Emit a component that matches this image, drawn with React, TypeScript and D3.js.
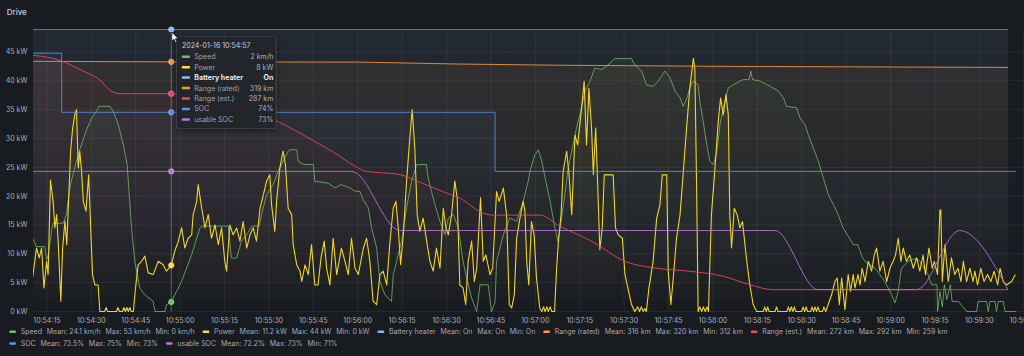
import React, { useEffect, useRef } from "react";
import * as d3 from "d3";

// ---------- DATA (seconds after 2024-01-16 10:54:00) ----------
const BASE_TIME = "2024-01-16T10:54:00";
const HOVER_SEC = 57;
const RANGE_START_SEC = 10.3;
const RANGE_END_SEC = 347;

const powerReadings: [number, number][] = [
  [9.8,4.6],[11.5,11],[12.4,9.3],[13.2,11],[14.0,4.1],[14.9,8.7],[15.4,6.4],[16.2,22.8],[17.1,19.1],[17.7,14.5],[18.3,16.8],[18.8,12.2],[19.7,1.8],[20.3,11],[21.1,15.7],[21.7,11.6],[22.5,21.4],[23.0,27.8],[23.7,31.8],[24.4,34.1],[25.0,35],[25.6,24.9],[26.1,27.8],[26.7,24.4],[27.3,19.1],[28.2,17.4],[29.1,23.7],[29.8,14.5],[30.4,6.4],[31.2,4.6],[32.3,4.6],[32.9,0],[34.5,0],[35.0,0.7],[35.5,0],[38.5,0],[39.0,0.7],[39.5,0],[40.5,0],[41.0,0.7],[41.5,0],[42.0,0.7],[42.5,0],[43.0,0.7],[43.5,0],[44.2,0],[44.7,2.9],[45.8,8.1],[47.0,8.7],[48.1,9.6],[49.2,6.7],[50.9,6.4],[52.6,8.7],[54.3,8.1],[55.4,7],[57.0,8],[58.2,10.5],[59.4,12.2],[60.5,14.5],[61.6,11],[62.7,12.7],[63.9,13.3],[64.4,16.8],[65.6,19.1],[66.1,22],[67.3,17.9],[68.4,14.5],[69.5,16.8],[70.6,12.7],[71.8,15],[72.9,11.6],[74.0,14.5],[75.1,8.7],[75.7,7],[76.8,15],[77.9,13.3],[79.1,14.5],[80.2,12.2],[81.3,15.6],[82.5,11],[83.6,13.3],[84.7,14.5],[85.8,12.2],[87.0,17.9],[88.1,20.2],[89.2,22.6],[90.3,23.7],[90.9,18.5],[92.0,13.9],[92.6,19.1],[93.7,24.9],[94.8,27.8],[95.6,25.4],[96.5,17.9],[97.7,16.8],[98.2,11.6],[99.4,8.1],[100.5,7],[101.1,5.2],[102.2,8.1],[103.3,6.4],[104.4,11.6],[105.5,4.6],[106.6,4.6],[107.6,9.3],[108.7,12.2],[109.5,7.5],[110.6,4.6],[111.7,12.7],[112.9,6.4],[114.5,11],[115.7,8.7],[116.8,6.4],[117.9,12.7],[119.1,7.5],[120.2,6.4],[121.9,11],[123.0,12.7],[124.1,8.7],[125.2,1.8],[126.4,1.2],[127.5,6.4],[128.6,7],[129.8,4.6],[130.9,12.2],[132.0,17.9],[132.9,19.1],[133.7,14.5],[134.5,8.1],[135.4,13.3],[136.5,22.6],[137.6,30.1],[138.4,35],[139.3,28.3],[140.1,16.8],[141.0,13.9],[142.1,16.2],[143.3,12.2],[144.4,8.7],[145.5,7],[146.6,11],[147.8,7.5],[148.9,17.9],[149.8,14.5],[150.6,13.3],[151.7,16.8],[152.8,22.6],[153.6,19.7],[154.5,4.6],[155.6,4.1],[156.5,1.2],[157.3,8.7],[158.5,12.2],[159.4,5.2],[160.2,7.5],[161.5,19.7],[162.4,8.7],[163.3,9.8],[164.7,6.4],[165.6,7.5],[166.9,20.8],[167.8,19.1],[169.2,21.4],[170.3,16.8],[171.2,1.2],[172.0,0.6],[172.9,2.9],[173.7,12.7],[174.8,16.2],[175.9,19.1],[176.5,17.4],[177.1,8.7],[177.8,4.6],[178.7,15.6],[179.6,13.3],[180.4,5.8],[181.5,0.6],[182.2,0],[182.8,0.8],[183.3,0],[183.9,0.8],[184.4,0],[185.0,0.8],[185.6,0],[186.5,0],[187.2,7.5],[187.8,12.2],[188.7,16.8],[189.4,24.3],[190.6,27.8],[191.4,23.7],[192.3,16.8],[193.4,30.6],[194.3,28.9],[195.4,34.1],[196.5,39.9],[197.3,28.9],[198.1,38.7],[199.0,31.8],[199.6,23.7],[200.4,31.8],[201.0,23.1],[201.8,10.7],[202.6,14.5],[203.3,23.7],[206.3,23.7],[207.1,14.5],[208.0,13.3],[209.4,12.7],[210.3,6.4],[212.5,1.2],[213.6,0],[214.6,0.8],[215.2,0],[215.8,0.8],[216.5,0],[217.0,0.5],[217.5,0],[218.4,4.1],[219.8,8.7],[221.0,16.2],[222.1,18.5],[222.9,23.7],[224.4,23.7],[224.9,7],[225.8,1.2],[226.6,5.8],[227.7,12.7],[228.9,16.8],[230.0,24.3],[231.1,31.8],[232.2,38.7],[233.4,43.9],[233.9,42],[234.5,21.4],[235.0,0],[235.6,0.8],[236.2,0],[236.8,0.8],[237.4,0],[238.0,0.8],[238.5,0],[239.0,8.7],[239.5,16.8],[240.7,24.9],[241.8,33],[242.6,37],[243.5,34.1],[244.4,37.6],[245.2,34.1],[245.7,16.8],[246.3,11],[247.2,17.9],[248.2,16.8],[249.1,14.5],[250.0,15.6],[251.2,9.8],[252.3,5.2],[253.6,1.2],[254.8,0],[257.0,0],[257.5,0.8],[258.0,0],[258.5,0.8],[259.0,0],[261.0,0],[261.5,0.8],[262.0,0],[265.0,0],[265.5,0.8],[266.0,0],[266.5,0.8],[267.0,0],[267.5,0.8],[268.0,0],[270.0,0],[270.5,0.8],[271.0,0],[271.5,0.8],[272.0,0],[273.0,0],[273.5,0.8],[274.0,0],[274.5,0.8],[275.0,0],[275.5,0.8],[276.0,0],[277.0,0],[277.5,0.8],[278.1,0],[280.1,2.9],[281.2,5.2],[282.0,5.8],[282.7,1.2],[283.5,5.8],[284.6,0.3],[285.7,6.4],[286.5,3.5],[287.4,6.4],[288.0,4.1],[289.0,6.4],[289.7,4.6],[290.4,7.5],[291.4,5.2],[292.5,8.7],[293.6,7],[294.5,9.8],[295.3,11],[296.4,7],[297.5,8.7],[298.7,5.2],[299.8,7.5],[300.9,8.7],[301.7,9.8],[302.6,12.7],[303.5,8.7],[304.3,11],[305.4,8.7],[306.5,9.8],[307.7,7.5],[308.8,9.3],[309.9,7],[311.0,9.8],[311.8,6.4],[313.0,11],[314.1,7.5],[314.8,8.7],[315.9,6.4],[316.7,17.6],[317.0,17.6],[317.5,5.2],[318.4,11.6],[319.5,5.2],[320.6,9.3],[321.7,6.4],[322.8,7.5],[323.8,5.2],[324.6,8.7],[325.7,5.2],[326.8,7.5],[327.9,5.2],[328.5,7],[329.4,4.6],[330.5,7.5],[331.6,5.2],[332.8,6.4],[333.9,5.2],[335.0,7],[336.2,4.6],[337.0,7.5],[338.1,5.2],[339.2,4.6],[340.9,5.2],[342.2,6.4]
];

const speedReadings: [number, number][] = [
  [9.8,15.8],[11.5,13.6],[14.3,13.6],[14.9,10.8],[15.5,12],[16.6,17],[17.1,18.5],[20.5,18.5],[21.6,20.5],[22.8,26.2],[24.5,30.4],[26.1,33.9],[28.4,38.1],[30.1,40.5],[31.8,42],[32.5,43],[36.3,43],[37.4,42],[39.1,39.2],[40.8,35],[42.1,30.8],[42.8,24.5],[43.6,17.5],[44.7,10.5],[46.4,4.9],[48.1,3.5],[50.9,2.1],[51.5,0],[54.9,0],[55.4,1.4],[57.0,2],[58.8,4.2],[60.5,6.3],[62.2,9.1],[63.9,11.9],[65.6,15.4],[66.7,17.5],[67.3,17.9],[76.3,17.9],[77.3,11.2],[79.1,11.2],[80.7,14.7],[82.5,16.1],[84.2,17.9],[86.7,17.9],[87.5,20.3],[89.2,24.5],[91.4,26.6],[93.1,29.4],[94.8,31.5],[96.5,33.6],[97.1,33.9],[99.4,33.9],[99.9,31.5],[101.7,30.8],[105.0,30.8],[105.5,27.3],[110.0,26.9],[112.3,25.9],[114.5,26.6],[117.4,25.9],[119.1,25.2],[120.7,25.2],[121.9,23.4],[123.6,21.7],[124.7,17.5],[126.4,13.3],[127.5,6.3],[129.2,3.5],[131.4,2.1],[132.0,7.7],[133.1,10.5],[134.8,14.7],[136.5,21.7],[138.2,27.3],[139.9,30.8],[143.2,30.8],[143.8,28],[144.9,25.2],[146.1,22.4],[147.8,18.9],[149.5,16.1],[150.6,19.6],[152.3,20.3],[154.0,17.5],[155.6,10.5],[156.8,7],[158.5,2.8],[160.2,0],[161.3,5.6],[164.1,5.6],[165.2,0],[166.4,2],[166.9,10.5],[169.2,16.1],[171.4,19.6],[173.7,18.9],[175.9,23.1],[177.6,27.3],[178.2,29.4],[179.9,32.9],[181.0,33.9],[182.2,31.5],[183.3,28],[185.0,23.1],[186.6,17.5],[187.7,14.7],[188.9,19.6],[190.0,24.5],[191.1,30.1],[192.8,35],[193.9,38.5],[195.1,41.3],[196.8,46.2],[198.5,48.3],[200.1,51],[202.4,50.7],[204.1,51.4],[206.9,53],[212.5,53],[213.6,51.7],[215.9,50.4],[217.6,47.5],[219.8,47.2],[221.5,48.3],[223.8,50.4],[225.5,49],[227.2,46.2],[228.9,44.8],[230.0,43],[231.4,45],[232.2,47],[233.4,48.3],[235.0,47.5],[235.6,44.1],[236.7,39.9],[237.9,35],[239.0,31.5],[240.1,30.8],[241.2,32.9],[242.4,39.2],[243.5,42.7],[245.2,46.9],[248.0,47.9],[250.2,48.6],[252.2,48.6],[252.8,50.4],[253.4,48.6],[255.9,48.3],[259.3,47.2],[262.1,46.2],[263.8,44.8],[264.9,43],[268.3,42.7],[269.4,40.6],[271.1,39.2],[272.2,37.1],[273.9,34.3],[275.6,31.5],[277.3,28],[279.0,24.5],[280.7,22.4],[282.3,20.3],[284.0,17.5],[285.7,15.8],[287.4,14],[288.9,14],[290.6,11.2],[291.4,10.5],[294.8,9.1],[298.1,6.3],[300.4,3.5],[301.5,1.8],[302.6,4.2],[303.7,9.1],[306.0,10.5],[308.8,11.2],[309.9,10.5],[312.7,7.7],[313.9,5.6],[315.7,5.6],[315.9,0],[316.7,4.2],[317.5,1],[318.2,5.6],[319.0,2.5],[320.2,5.6],[320.8,2.1],[323.0,2.1],[324.1,1.2],[325.7,0],[329.1,0],[329.6,2.1],[332.5,2.1],[333.0,0],[333.6,2.1],[335.3,2.1],[335.8,0],[336.4,2.1],[338.1,2.1],[338.7,0],[342.5,0]
];

const heaterReadings: [number, number][] = [[10.3, 1], [339.7, 1]];

const ratedRangeReadings: [number, number][] = [
  [10.3,320],[57.0,319.3],[120.7,319],[154.5,316.5],[188.3,315],[242.4,313.6],[303.2,312.7],[339.7,312.2]
];

const estRangeReadings: [number, number][] = [
  [10.3,292],[20.0,291.2],[26.1,290],[32.9,288.5],[36.3,287.1],[39.7,286.6],[57.0,286.6],[76.8,285],[93.0,282.7],[102.8,280.5],[111.6,278.4],[119.1,276.4],[122.4,275.7],[134.3,275.2],[140.0,274.3],[148.8,272.8],[154.5,271.9],[162.3,269.8],[165.7,269.5],[181.6,269.5],[187.6,268.1],[199.1,265.8],[210.3,263],[221.4,262],[232.2,261.6],[243.4,260.9],[252.5,259.7],[260.3,259],[339.7,259]
];

const socReadings: [number, number][] = [[10.3,75],[20.0,74],[166.4,73],[342.4,73]];

const usableSocReadings: [number, number][] = [
  [10.3,73],[118.0,73],[134.3,72],[260.9,72],[275.5,71],[308.8,71],[323.4,72],[339.7,71]
];

const kwTicks = [0, 5, 10, 15, 20, 25, 30, 35, 40, 45];

const legendNames = ["Speed", "Power", "Battery heater", "Range (rated)", "Range (est.)", "SOC", "usable SOC"];
const legendMean = ["24.1 km/h", "11.2 kW", "On", "316 km", "272 km", "73.5%", "72.2%"];
const legendMax = ["53 km/h", "44 kW", "On", "320 km", "292 km", "75%", "73%"];
const legendMin = ["0 km/h", "0 kW", "On", "312 km", "259 km", "73%", "71%"];

// ---------- LAYOUT / STYLE ----------
const W = 1024, H = 356;
const PLOT_L = 33, PLOT_T = 29.5, PLOT_B = 311.5;
const PX_PER_SEC = 2.96;
const FONT = "Inter, 'Noto Sans', sans-serif";
const TEXT = "#ccccdc";

const toDate = (s: number) => new Date(new Date(BASE_TIME).getTime() + s * 1000);

function interp(data: [number, number][], t: number, step: boolean) {
  let prev = data[0];
  for (let i = 1; i < data.length; i++) {
    const cur = data[i];
    if (cur[0] >= t) {
      if (step) return cur[0] === t ? cur[1] : prev[1];
      const f = (t - prev[0]) / (cur[0] - prev[0] || 1);
      return prev[1] + f * (cur[1] - prev[1]);
    }
    prev = cur;
  }
  return prev[1];
}

export default function App() {
  const ref = useRef<SVGSVGElement>(null);

  useEffect(() => {
    const svg = d3.select(ref.current as SVGSVGElement);
    svg.selectAll("*").remove();

    const PLOT_R = PLOT_L + (RANGE_END_SEC - RANGE_START_SEC) * PX_PER_SEC;
    const x = d3.scaleTime().domain([toDate(RANGE_START_SEC), toDate(RANGE_END_SEC)]).range([PLOT_L, PLOT_R]);
    const yKW = d3.scaleLinear().domain([0, 48.9]).range([PLOT_B, PLOT_T]);
    const ySpeed = d3.scaleLinear().domain([0, 59.1]).range([PLOT_B, PLOT_T]);
    const yHeater = d3.scaleLinear().domain([0, 1]).range([PLOT_B, PLOT_T]);
    const yRated = d3.scaleLinear().domain([0, 360.7]).range([PLOT_B, PLOT_T]);
    const yEst = d3.scaleLinear().domain([255.93, 295.63]).range([PLOT_B, PLOT_T]);
    const yPct = d3.scaleLinear().domain([70.63, 75.4]).range([PLOT_B, PLOT_T]);

    const series = [
      { name: legendNames[0], color: "#73BF69", data: speedReadings, y: ySpeed, curve: d3.curveLinear, step: false, fmt: (v: number) => `${Math.round(v)} km/h`, fo: 0.06, sw: 0.9, so: 0.85 },
      { name: legendNames[1], color: "#FADE2A", data: powerReadings, y: yKW, curve: d3.curveLinear, step: false, fmt: (v: number) => `${Math.round(v)} kW`, fo: 0.06, sw: 1.1, so: 0.95 },
      { name: legendNames[2], color: "#8AB8FF", data: heaterReadings, y: yHeater, curve: d3.curveStepAfter, step: true, fmt: (v: number) => (v >= 0.5 ? "On" : "Off"), fo: 0.09, sw: 1, so: 0.55 },
      { name: legendNames[3], color: "#FF9830", data: ratedRangeReadings, y: yRated, curve: d3.curveLinear, step: false, fmt: (v: number) => `${Math.round(v)} km`, fo: 0.08, sw: 1, so: 0.85 },
      { name: legendNames[4], color: "#F2495C", data: estRangeReadings, y: yEst, curve: d3.curveMonotoneX, step: false, fmt: (v: number) => `${Math.round(v)} km`, fo: 0.06, sw: 1, so: 0.85 },
      { name: legendNames[5], color: "#5794F2", data: socReadings, y: yPct, curve: d3.curveStepAfter, step: true, fmt: (v: number) => `${Math.round(v)}%`, fo: 0.06, sw: 1, so: 0.85 },
      { name: legendNames[6], color: "#B877D9", data: usableSocReadings, y: yPct, curve: d3.curveMonotoneX, step: false, fmt: (v: number) => `${Math.round(v)}%`, fo: 0.05, sw: 1, so: 0.85 },
    ];

    // background
    svg.append("rect").attr("width", W).attr("height", H).attr("fill", "#181b1f");

    const defs = svg.append("defs");
    defs.append("clipPath").attr("id", "plotclip").append("rect")
      .attr("x", PLOT_L).attr("y", PLOT_T - 1).attr("width", PLOT_R - PLOT_L).attr("height", PLOT_B - PLOT_T + 2);
    series.forEach((s, i) => {
      const g = defs.append("linearGradient").attr("id", `grad${i}`).attr("gradientUnits", "userSpaceOnUse")
        .attr("x1", 0).attr("x2", 0).attr("y1", PLOT_T).attr("y2", PLOT_B);
      g.append("stop").attr("offset", 0).attr("stop-color", s.color).attr("stop-opacity", s.fo);
      g.append("stop").attr("offset", 1).attr("stop-color", s.color).attr("stop-opacity", 0);
    });
    const shadow = defs.append("filter").attr("id", "shadow").attr("x", "-20%").attr("y", "-20%").attr("width", "140%").attr("height", "140%");
    shadow.append("feDropShadow").attr("dx", 0).attr("dy", 2).attr("stdDeviation", 3).attr("flood-color", "#000").attr("flood-opacity", 0.5);

    // title
    svg.append("text").attr("x", 6.7).attr("y", 15.2).attr("font-family", FONT).attr("font-size", 8)
      .attr("font-weight", 500).attr("fill", TEXT).text("Drive");

    // grid
    const grid = svg.append("g");
    const timeTicks = x.ticks(d3.timeSecond.every(15) as any);
    grid.selectAll("line.v").data(timeTicks).join("line")
      .attr("x1", d => x(d)).attr("x2", d => x(d)).attr("y1", PLOT_T).attr("y2", PLOT_B)
      .attr("stroke", "rgba(204,204,220,0.08)").attr("stroke-width", 1);
    grid.selectAll("line.h").data(kwTicks).join("line")
      .attr("x1", PLOT_L).attr("x2", PLOT_R).attr("y1", d => yKW(d)).attr("y2", d => yKW(d))
      .attr("stroke", "rgba(204,204,220,0.08)").attr("stroke-width", 1);

    // axes labels
    svg.append("g").selectAll("text").data(kwTicks).join("text")
      .attr("x", 27.3).attr("y", d => yKW(d)).attr("dy", "0.35em").attr("text-anchor", "end")
      .attr("font-family", FONT).attr("font-size", 7).attr("fill", TEXT).attr("fill-opacity", 0.85)
      .text(d => `${d} kW`);
    const tfmt = d3.timeFormat("%H:%M:%S");
    svg.append("g").selectAll("text").data(timeTicks).join("text")
      .attr("x", d => x(d)).attr("y", 321).attr("dy", "0.35em").attr("text-anchor", "middle")
      .attr("font-family", FONT).attr("font-size", 7).attr("fill", TEXT).attr("fill-opacity", 0.85)
      .text(d => tfmt(d));

    // series
    const plot = svg.append("g").attr("clip-path", "url(#plotclip)");
    series.forEach((s, i) => {
      const area = d3.area<[number, number]>().x(d => x(toDate(d[0]))).y0(PLOT_B).y1(d => s.y(d[1])).curve(s.curve);
      plot.append("path").datum(s.data).attr("d", area).attr("fill", `url(#grad${i})`);
    });
    series.forEach((s) => {
      const line = d3.line<[number, number]>().x(d => x(toDate(d[0]))).y(d => s.y(d[1])).curve(s.curve);
      plot.append("path").datum(s.data).attr("d", line).attr("fill", "none")
        .attr("stroke", s.color).attr("stroke-width", s.sw).attr("stroke-opacity", s.so).attr("stroke-linejoin", "round");
    });

    // crosshair
    const hx = x(toDate(HOVER_SEC));
    svg.append("line").attr("x1", hx).attr("x2", hx).attr("y1", PLOT_T).attr("y2", PLOT_B)
      .attr("stroke", "rgba(255,255,255,0.3)").attr("stroke-width", 1);
    const hoverVals = series.map(s => interp(s.data, HOVER_SEC, s.step));
    series.forEach((s, i) => {
      svg.append("circle").attr("cx", hx).attr("cy", s.y(hoverVals[i])).attr("r", 2.8)
        .attr("fill", s.color).attr("stroke", "rgba(255,255,255,0.35)").attr("stroke-width", 0.8);
    });

    // legend
    const legend = svg.append("g").attr("font-family", FONT).attr("font-size", 7);
    let lx = 9.3, row = 0;
    const rowY = [331.7, 343.6];
    legendNames.forEach((name, i) => {
      const g = legend.append("g");
      g.append("rect").attr("x", 0).attr("y", -1.25).attr("width", 6.7).attr("height", 2.5).attr("rx", 1)
        .attr("fill", series[i].color);
      let cx = 11.4;
      const parts = [name, `Mean: ${legendMean[i]}`, `Max: ${legendMax[i]}`, `Min: ${legendMin[i]}`];
      parts.forEach((p, j) => {
        const t = g.append("text").attr("x", cx).attr("y", 0).attr("dy", "0.35em")
          .attr("fill", TEXT).attr("fill-opacity", 0.8).text(p);
        cx += (t.node() as SVGTextElement).getComputedTextLength() + (j === 3 ? 0 : 4.8);
      });
      if (lx + cx > 1015) { row += 1; lx = 9.3; }
      g.attr("transform", `translate(${lx},${rowY[row]})`);
      lx += cx + 8;
    });

    // tooltip
    const tip = svg.append("g").attr("font-family", FONT).attr("font-size", 7);
    tip.append("rect").attr("x", 176.5).attr("y", 36.5).attr("width", 99.5).attr("height", 92).attr("rx", 2.5)
      .attr("fill", "#22252b").attr("stroke", "rgba(204,204,220,0.12)").attr("filter", "url(#shadow)");
    tip.append("text").attr("x", 182).attr("y", 46).attr("dy", "0.35em").attr("fill", TEXT)
      .text(d3.timeFormat("%Y-%m-%d %H:%M:%S")(toDate(HOVER_SEC)));
    series.forEach((s, i) => {
      const cy = 56.7 + i * 10.45;
      const hl = s.name === "Battery heater";
      tip.append("rect").attr("x", 181.7).attr("y", cy - 1.25).attr("width", 8.3).attr("height", 2.5).attr("rx", 1).attr("fill", s.color);
      tip.append("text").attr("x", 194.3).attr("y", cy).attr("dy", "0.35em")
        .attr("fill", hl ? "#e6e6ee" : TEXT).attr("fill-opacity", hl ? 1 : 0.75).attr("font-weight", hl ? 700 : 400).text(s.name);
      tip.append("text").attr("x", 273.3).attr("y", cy).attr("dy", "0.35em").attr("text-anchor", "end")
        .attr("fill", hl ? "#e6e6ee" : TEXT).attr("fill-opacity", hl ? 1 : 0.85).attr("font-weight", hl ? 700 : 400)
        .text(s.fmt(hoverVals[i]));
    });

    // mouse pointer
    svg.append("path").attr("transform", `translate(${hx + 0.5},${PLOT_T + 2.5}) scale(0.85)`)
      .attr("d", "M0,0 L0,11 L2.6,8.5 L4.6,12.6 L6.2,11.9 L4.3,7.9 L7.8,7.9 Z")
      .attr("fill", "#fff").attr("stroke", "#000").attr("stroke-width", 0.8);
  }, []);

  return (
    <svg ref={ref} width={W} height={H} style={{ position: "fixed", left: 0, top: 0, display: "block" }} />
  );
}
